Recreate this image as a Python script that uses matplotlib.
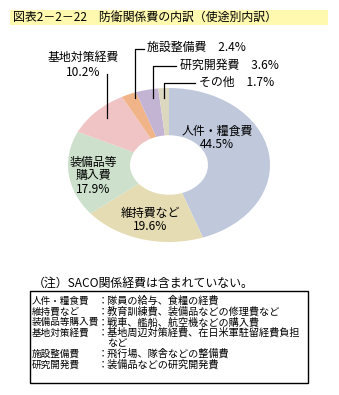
import matplotlib
matplotlib.use("Agg")
import matplotlib.pyplot as plt
from matplotlib.patches import Rectangle
from matplotlib.lines import Line2D

plt.rcParams['font.family'] = ['Noto Sans CJK JP', 'DejaVu Sans']

W, H = 339, 395

# データ
categories = ['人件・糧食費', '維持費など', '装備品等\n購入費', '基地対策経費',
              '施設整備費', '研究開発費', 'その他']
shares = [44.5, 19.6, 17.9, 10.2, 2.4, 3.6, 1.7]
colors = ['#C0C8DC', '#E6DCB4', '#CCE0CC', '#F0C4C4', '#F0B488', '#C4B4D4', '#DCD8C0']

notes_label = ['人件・糧食費', '維持費など', '装備品等購入費', '基地対策経費', '', '施設整備費', '研究開発費']
notes_desc = ['隊員の給与、食糧の経費', '教育訓練費、装備品などの修理費など', '戦車、艦船、航空機などの購入費',
              '基地周辺対策経費、在日米軍駐留経費負担', 'など', '飛行場、隊舎などの整備費', '装備品などの研究開発費']


def fx(x):
    return x / W


def fy(y):
    return 1 - y / H


fig = plt.figure(figsize=(W / 100, H / 100), dpi=100)
fig.patch.set_facecolor('white')

# タイトル
fig.patches.append(Rectangle((fx(10), fy(25)), fx(318), 15 / H, transform=fig.transFigure,
                             facecolor='#FFF9B0', edgecolor='none'))
fig.text(fx(13), fy(17.5), '図表2－2－22　防衛関係費の内訳（使途別内訳）', fontsize=8.6,
         va='center', ha='left')

# ドーナツ（楕円）
ax = fig.add_axes([fx(68), fy(242), 202 / W, 154 / H])
ax.pie(shares, colors=colors, startangle=90, counterclock=False, radius=1,
       wedgeprops=dict(width=0.614, edgecolor='none'))
ax.set_aspect('auto')
ax.set_xlim(-1, 1)
ax.set_ylim(-1, 1)
ax.axis('off')

fs = 8.6
pct = [f'{v:.1f}%' for v in shares]
fig.text(fx(217), fy(138), categories[0] + '\n' + pct[0], fontsize=fs, ha='center', va='center', linespacing=1.1)
fig.text(fx(150), fy(220), categories[1] + '\n' + pct[1], fontsize=fs, ha='center', va='center', linespacing=1.1)
fig.text(fx(93), fy(176), categories[2] + '\n' + pct[2], fontsize=fs, ha='center', va='center', linespacing=1.1)
fig.text(fx(83), fy(65), categories[3] + '\n' + pct[3], fontsize=fs, ha='center', va='center', linespacing=1.1)
fig.text(fx(147), fy(47), categories[4] + '　' + pct[4], fontsize=fs, ha='left', va='center')
fig.text(fx(180), fy(65), categories[5] + '　' + pct[5], fontsize=fs, ha='left', va='center')
fig.text(fx(199), fy(82), categories[6] + '　' + pct[6], fontsize=fs, ha='left', va='center')

# 引き出し線
leaders = [
    [(107, 74), (107, 118)],
    [(144, 49), (135, 49), (135, 98)],
    [(176, 66), (153, 66), (153, 98)],
    [(195, 83), (164, 83), (164, 98)],
]
for pts in leaders:
    fig.lines.append(Line2D([fx(p[0]) for p in pts], [fy(p[1]) for p in pts],
                            transform=fig.transFigure, color='black', lw=0.9))

# 注記
fig.text(fx(33), fy(283), '（注）SACO関係経費は含まれていない。', fontsize=8.6, ha='left', va='center')
fig.patches.append(Rectangle((fx(30), fy(383)), 278 / W, 92 / H, transform=fig.transFigure,
                             facecolor='none', edgecolor='black', lw=1))
y0 = 301
for i, (lab, desc) in enumerate(zip(notes_label, notes_desc)):
    y = y0 + i * 10.6
    if lab:
        fig.text(fx(31.5), fy(y), lab, fontsize=6.9, ha='left', va='center')
        fig.text(fx(97.5), fy(y), '：' + desc, fontsize=7.3, ha='left', va='center')
    else:
        fig.text(fx(107.5), fy(y), desc, fontsize=7.3, ha='left', va='center')

fig.savefig('out.png', dpi=100)
